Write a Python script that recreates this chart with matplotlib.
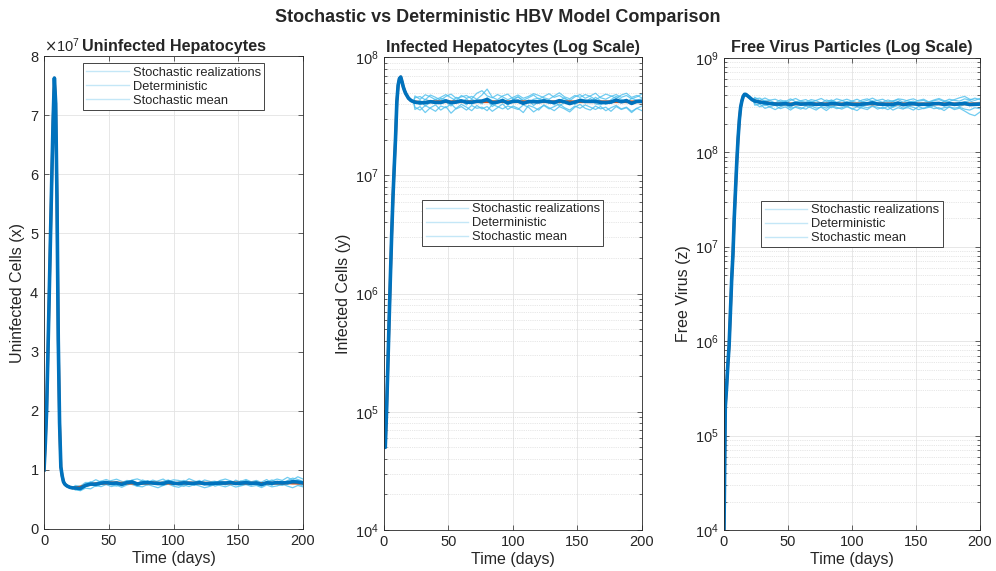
import numpy as np
import matplotlib.pyplot as plt
from matplotlib.lines import Line2D
from matplotlib.ticker import LogLocator, NullFormatter

plt.rcParams['font.family'] = ['Liberation Sans', 'DejaVu Sans']

# time grid (days): daily during the acute phase, every 4 days afterwards
t_early = list(range(0, 24))
t_late = list(range(24, 201, 4))

# deterministic solutions
x_det_early = [1.0, 1.45, 2.0, 2.95, 3.95, 4.95, 5.95, 6.9, 7.63, 7.2,
               5.6, 3.2, 1.8, 1.05, 0.9, 0.8, 0.76, 0.74, 0.725, 0.715,
               0.705, 0.70, 0.695, 0.695]  # x 1e7
x_det_late = [0.695, 0.71, 0.735, 0.755, 0.765, 0.77, 0.775, 0.78, 0.78, 0.775,
              0.775, 0.775, 0.77, 0.775, 0.775, 0.78, 0.775, 0.775, 0.775, 0.77,
              0.775, 0.775, 0.78, 0.775, 0.775, 0.775, 0.775, 0.77, 0.775, 0.775,
              0.775, 0.78, 0.775, 0.775, 0.775, 0.775, 0.77, 0.775, 0.775, 0.775,
              0.775, 0.78, 0.775, 0.775, 0.775]

y_det_early = [1.0e5, 5.0e4, 1.0e5, 2.4e5, 5.9e5, 1.4e6, 3.2e6, 6.6e6, 1.2e7, 2.1e7,
               4.2e7, 5.8e7, 6.6e7, 6.8e7, 6.2e7, 5.6e7, 5.2e7, 4.9e7, 4.7e7, 4.5e7,
               4.4e7, 4.3e7, 4.25e7, 4.2e7]
y_det_late = [4.2e7, 4.15e7, 4.15e7, 4.2e7, 4.2e7, 4.2e7, 4.2e7, 4.2e7, 4.2e7, 4.2e7,
              4.2e7, 4.2e7, 4.2e7, 4.2e7, 4.2e7, 4.2e7, 4.2e7, 4.2e7, 4.2e7, 4.2e7,
              4.2e7, 4.2e7, 4.2e7, 4.2e7, 4.2e7, 4.2e7, 4.2e7, 4.2e7, 4.2e7, 4.2e7,
              4.2e7, 4.2e7, 4.2e7, 4.2e7, 4.2e7, 4.2e7, 4.2e7, 4.2e7, 4.2e7, 4.2e7,
              4.2e7, 4.2e7, 4.2e7, 4.2e7, 4.2e7]

z_det_early = [1.0e4, 2.0e5, 3.2e5, 5.6e5, 9.0e5, 2.0e6, 4.5e6, 8.3e6, 2.0e7, 4.0e7,
               7.9e7, 1.4e8, 2.2e8, 3.0e8, 3.5e8, 3.9e8, 4.1e8, 4.1e8, 4.0e8, 3.9e8,
               3.8e8, 3.7e8, 3.6e8, 3.55e8]
z_det_late = [3.5e8, 3.4e8, 3.35e8, 3.3e8, 3.25e8, 3.25e8, 3.25e8, 3.25e8, 3.25e8, 3.25e8,
              3.25e8, 3.25e8, 3.25e8, 3.25e8, 3.25e8, 3.25e8, 3.25e8, 3.25e8, 3.25e8, 3.25e8,
              3.25e8, 3.25e8, 3.25e8, 3.25e8, 3.25e8, 3.25e8, 3.25e8, 3.25e8, 3.25e8, 3.25e8,
              3.25e8, 3.25e8, 3.25e8, 3.25e8, 3.25e8, 3.25e8, 3.25e8, 3.25e8, 3.25e8, 3.25e8,
              3.25e8, 3.25e8, 3.25e8, 3.25e8, 3.25e8]

# stochastic realizations: % deviation from deterministic after day 24
x_dev = [
    [3, -4, 2, 6, -2, 5, 8, 3, -3, 1, 6, 4, -2, 7, 3, -1, 5, 9, 2, -4, 3, 6, 1, -3, 4,
     2, -5, 1, 5, 3, -2, 6, 2, -3, 1, 4, -1, 3, 7, 2, -2, 5, 11, 8, 4],
    [-5, -8, -3, 1, -6, -2, 2, -4, -7, -1, 3, -3, -6, 0, -4, 2, -2, -5, 1, 4, -3, -7, -2, 2, -1,
     -4, 1, -6, -3, 0, 3, -2, -5, -1, 2, -4, -6, -2, 1, -3, -5, 0, 3, -2, -6],
    [6, 2, 7, 4, 9, 3, -1, 5, 8, 4, 1, 7, 10, 5, 2, 6, 3, -2, 4, 8, 6, 2, 9, 5, 1,
     7, 4, 0, 6, 9, 5, 1, 4, 8, 3, 6, 2, -1, 5, 9, 6, 12, 7, 14, 9],
    [-2, -9, -6, -10, -4, -7, -3, -8, -5, -9, -4, -1, -6, -8, -3, -7, -10, -5, -2, -6, -9, -4, -8, -3, -6,
     -10, -7, -2, -5, -8, -4, -9, -6, -3, -7, -5, -9, -4, -8, -6, -2, -7, -10, -5, -8],
    [1, -3, 4, -1, 2, 5, -2, 0, 3, -4, 2, 6, 1, -3, 5, 0, -2, 4, 7, 1, -1, 3, -4, 2, 6,
     -1, 3, 5, -2, 1, 4, -3, 0, 6, 2, -2, 3, 8, -1, 2, 5, -3, 6, 2, 0],
    [-4, 1, -2, 3, -5, 0, 4, -3, 2, -6, -1, 3, -4, 2, 5, -2, 1, -5, 3, 0, -3, 4, -1, -5, 2,
     0, -3, 4, 1, -4, 2, -1, 5, 0, -4, 3, -2, 1, -5, 4, 1, -3, 2, -1, 3],
]
y_dev = [
    [8, 12, 5, 14, 9, 3, 11, 16, 7, 10, 13, 6, 18, 24, 12, 8, 15, 10, 4, 9, 14, 7, 11, 17, 13,
     8, 5, 12, 19, 10, 6, 13, 9, 15, 11, 4, 10, 16, 12, 7, 14, 18, 9, 13, 8],
    [-10, -14, -6, -12, -17, -8, -11, -4, -13, -9, -15, -7, -12, -10, -16, -5, -9, -13, -8, -11,
     -14, -6, -10, -18, -12, -7, -13, -9, -4, -11, -15, -8, -12, -6, -10, -14, -9, -16, -11, -7,
     -13, -10, -17, -12, -8],
    [2, -5, 6, 1, -3, 7, 4, -2, 9, 3, -6, 5, 0, -4, 8, 2, -1, 6, -5, 3, 10, 1, -3, 5, 7,
     -2, 4, -6, 2, 8, 0, -4, 6, 3, -1, 9, 2, -5, 4, 11, 5, -2, 7, 3, 6],
    [-3, 4, -7, -1, 5, -4, 0, -8, 3, -2, 6, -5, 1, -3, 4, -9, -2, 2, -6, 5, -1, -4, 3, -7, 0,
     6, -3, 2, -8, -1, 4, -5, 1, -2, 7, -4, -6, 1, -3, 3, -1, 5, -5, 2, -2],
    [12, 6, 16, 10, 4, 9, 15, 8, 2, 13, 7, 11, 5, 14, 28, 9, 4, 12, 16, 6, 10, 3, 8, 14, 5,
     11, 17, 9, 13, 6, 2, 10, 15, 7, 12, 18, 8, 5, 11, 15, 9, 13, 6, 10, 16],
    [-14, -8, -18, -11, -6, -15, -9, -20, -12, -5, -10, -16, -7, -13, -9, -17, -11, -4, -14, -8,
     -12, -19, -7, -10, -15, -6, -11, -16, -9, -13, -18, -10, -5, -12, -15, -8, -13, -10, -17, -9,
     -14, -11, -19, -12, -16],
]
z_dev = [
    [5, 10, 3, 8, 12, 6, 1, 9, 14, 7, 4, 11, 8, 2, 10, 6, 13, 9, 3, 7, 12, 5, 9, 15, 8,
     4, 10, 6, 13, 11, 7, 3, 9, 12, 5, 10, 14, 8, 6, 11, 16, 20, 12, 9, 14],
    [-6, -11, -4, -9, -13, -7, -3, -10, -8, -12, -5, -9, -14, -6, -10, -4, -8, -12, -7, -11,
     -15, -6, -9, -5, -12, -8, -13, -7, -4, -10, -9, -14, -6, -11, -8, -5, -12, -9, -7, -13,
     -10, -16, -22, -25, -18],
    [3, -2, 6, 0, -4, 4, 8, -1, 2, 5, -3, 7, 1, -5, 3, 9, 2, -2, 6, 0, -4, 5, 1, 8, -1,
     3, -3, 6, 2, -2, 4, 7, 0, -3, 5, 2, -1, 6, 3, -4, 1, 5, 8, 2, 4],
    [-4, 2, -7, -2, 3, -5, -1, -8, 1, -3, 4, -6, -2, 2, -4, -9, 0, -3, -6, 3, -2, -7, 1, -4, 2,
     -5, -1, -8, 0, -3, -6, 1, -4, -2, -7, -1, 3, -5, -3, 0, -6, -2, -4, 1, -3],
    [9, 4, 12, 7, 2, 10, 6, 13, 5, 8, 11, 3, 9, 14, 6, 10, 4, 8, 12, 7, 3, 10, 13, 6, 9,
     12, 5, 8, 11, 4, 10, 13, 7, 9, 3, 8, 11, 6, 12, 9, 7, 13, 10, 15, 11],
    [-10, -5, -13, -8, -3, -11, -7, -14, -6, -9, -12, -4, -10, -8, -15, -6, -11, -9, -4, -12,
     -7, -10, -13, -5, -8, -11, -6, -14, -9, -12, -5, -8, -13, -10, -6, -11, -9, -15, -7, -10,
     -8, -12, -14, -9, -11],
]

titles = ['Uninfected Hepatocytes', 'Infected Hepatocytes (Log Scale)',
          'Free Virus Particles (Log Scale)']
ylabels = ['Uninfected Cells (x)', 'Infected Cells (y)', 'Free Virus (z)']
legend_labels = ['Stochastic realizations', 'Deterministic', 'Stochastic mean']

C_MEAN = '#0072BD'
C_DET = '#D95319'
C_REAL = (0.30, 0.75, 0.93)
C_AX = '#262626'

t = np.array(t_early + t_late, dtype=float)
n_early = len(t_early)

fig = plt.figure(figsize=(9.96, 5.71), dpi=100)
positions = [[0.0442, 0.0736, 0.260, 0.828],
             [0.3855, 0.0718, 0.259, 0.828],
             [0.7269, 0.0718, 0.257, 0.827]]
series = [(x_det_early, x_det_late, x_dev, 1e7),
          (y_det_early, y_det_late, y_dev, 1.0),
          (z_det_early, z_det_late, z_dev, 1.0)]
leg_anchor = [(0.5, 0.985), (0.5, 0.698), (0.5, 0.697)]

for i, (det_e, det_l, devs, scale) in enumerate(series):
    ax = fig.add_axes(positions[i])
    det = np.array(det_e + det_l) * scale
    reals = []
    for d in devs:
        dev = np.concatenate([np.zeros(n_early), np.array(d) / 100.0])
        reals.append(det * (1 + dev))
    reals = np.array(reals)
    for r in reals:
        ax.plot(t, r, color=C_REAL, lw=0.9, alpha=0.8)
    ax.plot(t, det, color=C_DET, lw=2.0)
    ax.plot(t, reals.mean(axis=0), color=C_MEAN, lw=2.6)

    ax.set_xlim(0, 200)
    ax.set_xticks([0, 50, 100, 150, 200])
    if i == 0:
        ax.set_ylim(0, 8e7)
        ax.set_yticks(np.arange(0, 9) * 1e7)
        ax.ticklabel_format(axis='y', style='sci', scilimits=(7, 7), useMathText=True)
        ax.yaxis.get_offset_text().set_fontsize(10.5)
        ax.yaxis.get_offset_text().set_color(C_AX)
    else:
        ax.set_yscale('log')
        ax.set_ylim(1e4, 1e8 if i == 1 else 1e9)
        ax.yaxis.set_major_locator(LogLocator(base=10, numticks=10))
        ax.yaxis.set_minor_locator(LogLocator(base=10, subs=np.arange(2, 10), numticks=20))
        ax.yaxis.set_minor_formatter(NullFormatter())
        ax.grid(True, which='minor', axis='y', color='#d0d0d0', lw=0.5, ls=':')
    ax.grid(True, which='major', color='#e3e3e3', lw=0.6)
    ax.set_axisbelow(True)

    ax.tick_params(which='both', direction='in', top=True, right=True,
                   colors=C_AX, labelsize=10.5, length=3.5, width=0.5)
    ax.tick_params(which='minor', length=2)
    for sp in ax.spines.values():
        sp.set_color(C_AX)
        sp.set_linewidth(0.6)
    ax.set_xlabel('Time (days)', fontsize=11.5, color=C_AX, labelpad=2)
    ax.set_ylabel(ylabels[i], fontsize=11.5, color=C_AX, labelpad=3)
    ax.set_title(titles[i], fontsize=11.6, fontweight='bold', color=C_AX, pad=4)

    handles = [Line2D([], [], color='#c4e7f7', lw=1.0) for _ in legend_labels]
    leg = ax.legend(handles, legend_labels, loc='upper center', bbox_to_anchor=leg_anchor[i],
                    fontsize=9.3, frameon=True, fancybox=False, framealpha=1,
                    edgecolor=C_AX, borderpad=0.25, labelspacing=0.15,
                    handlelength=3.3, handletextpad=0.3, borderaxespad=0)
    leg.get_frame().set_linewidth(0.6)
    for txt in leg.get_texts():
        txt.set_color(C_AX)

fig.suptitle('Stochastic vs Deterministic HBV Model Comparison', fontsize=13,
             fontweight='bold', color=C_AX, y=0.985)

fig.savefig('out.png', dpi=100)
